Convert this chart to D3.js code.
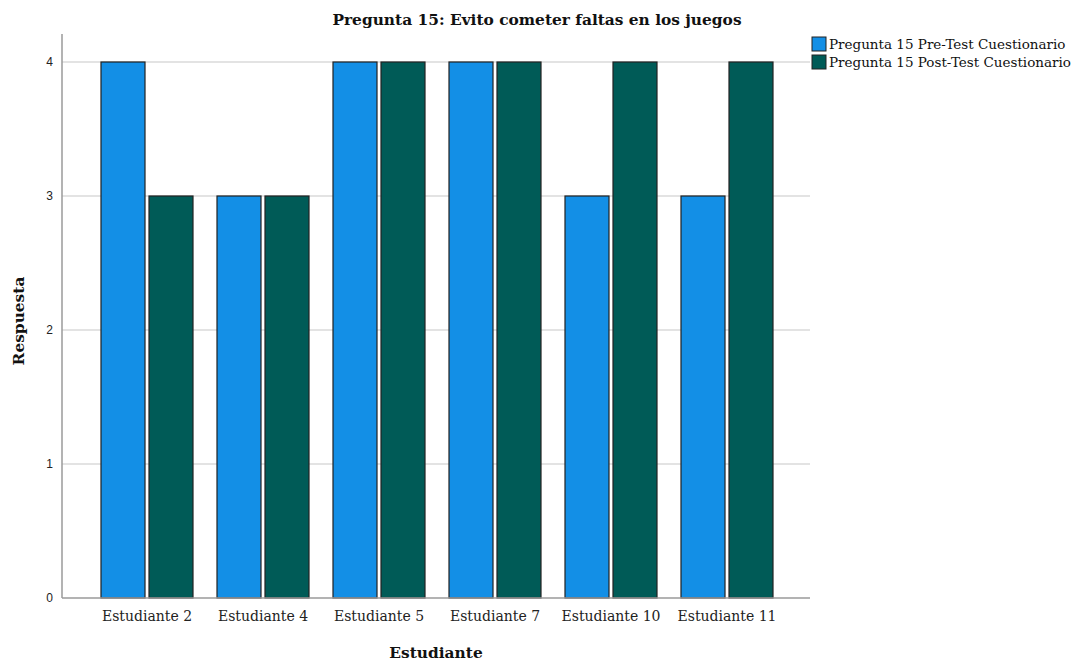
<!DOCTYPE html>
<html><head><meta charset="utf-8">
<script src="https://cdn.jsdelivr.net/npm/d3@7"></script>
<style>body{margin:0;background:#fff}svg{display:block}</style>
</head><body>
<script>
const categories = ["Estudiante 2","Estudiante 4","Estudiante 5","Estudiante 7","Estudiante 10","Estudiante 11"];
const seriesNames = ["Pregunta 15 Pre-Test Cuestionario","Pregunta 15 Post-Test Cuestionario"];
const preValues = [4,3,4,4,3,3];
const postValues = [3,3,4,4,4,4];
const yTicks = [0,1,2,3,4];
const colors = ["#138fe6","#005b57"];

const W=1076,H=662;
const svg=d3.select("body").append("svg").attr("width",W).attr("height",H);
const serif="'DejaVu Serif',serif";
const x0=62,x1=810,yTop=34,yBottom=598;
const y=d3.scaleLinear().domain([0,4]).range([yBottom,62]);
const xb=d3.scaleBand().domain(categories).range([101,773]).paddingInner(24/116).paddingOuter(0);
const xs=d3.scaleBand().domain([0,1]).range([0,xb.bandwidth()]).paddingInner(4/48);

// grid
svg.append("g").selectAll("line").data(yTicks.filter(d=>d>0)).join("line")
 .attr("x1",x0).attr("x2",x1).attr("y1",d=>y(d)).attr("y2",d=>y(d))
 .attr("stroke","#c8c8c8").attr("stroke-width",1.2);

// bars
const data=categories.map((c,i)=>({c,v:[preValues[i],postValues[i]]}));
const g=svg.append("g");
data.forEach(d=>{
  d.v.forEach((v,j)=>{
    g.append("rect").attr("x",xb(d.c)+xs(j)).attr("y",y(v))
     .attr("width",xs.bandwidth()).attr("height",y(0)-y(v))
     .attr("fill",colors[j]).attr("stroke","#222").attr("stroke-width",1.2);
  });
});

// axes lines
svg.append("line").attr("x1",x0).attr("x2",x0).attr("y1",yTop).attr("y2",yBottom).attr("stroke","#9a9a9a").attr("stroke-width",1.5);
svg.append("line").attr("x1",x0).attr("x2",x1).attr("y1",yBottom).attr("y2",yBottom).attr("stroke","#9a9a9a").attr("stroke-width",1.5);

// y tick labels
svg.append("g").selectAll("text").data(yTicks).join("text")
 .attr("x",53).attr("y",d=>y(d)+4).attr("text-anchor","end")
 .attr("font-family","'Liberation Sans',Arial,sans-serif").attr("font-size",12).attr("fill","#222").text(d=>d);

// x labels
svg.append("g").selectAll("text").data(categories).join("text")
 .attr("x",d=>xb(d)+xb.bandwidth()/2).attr("y",621).attr("text-anchor","middle")
 .attr("font-family",serif).attr("font-size",14).attr("fill","#222").text(d=>d);

// titles
svg.append("text").attr("x",537).attr("y",25).attr("text-anchor","middle")
 .attr("font-family",serif).attr("font-size",15.4).attr("font-weight","bold").attr("fill","#111")
 .text("Pregunta 15: Evito cometer faltas en los juegos");
svg.append("text").attr("x",436).attr("y",658).attr("text-anchor","middle")
 .attr("font-family",serif).attr("font-size",15.4).attr("font-weight","bold").attr("fill","#111").text("Estudiante");
svg.append("text").attr("transform","translate(24,321) rotate(-90)").attr("text-anchor","middle")
 .attr("font-family",serif).attr("font-size",15.4).attr("font-weight","bold").attr("fill","#111").text("Respuesta");

// legend
const lg=svg.append("g");
seriesNames.forEach((s,i)=>{
  lg.append("rect").attr("x",812).attr("y",37+i*18).attr("width",14).attr("height",14)
   .attr("fill",colors[i]).attr("stroke","#222").attr("stroke-width",1);
  lg.append("text").attr("x",829).attr("y",49+i*18).attr("font-family",serif).attr("font-size",13.5)
   .attr("fill","#111").text(s);
});
</script>
</body></html>
